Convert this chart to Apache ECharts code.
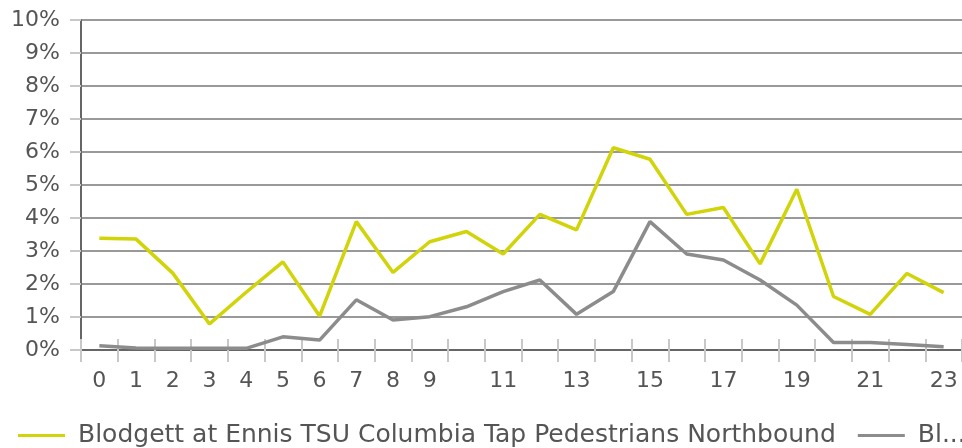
<!DOCTYPE html>
<html>
<head>
<meta charset="utf-8">
<script src="https://cdn.jsdelivr.net/npm/echarts@6/dist/echarts.min.js"></script>
<style>
  html, body { margin: 0; padding: 0; background: #fff; }
  #chart { width: 962px; height: 448px; }
</style>
</head>
<body>
<div id="chart"></div>
<script>
  // hours of the day
  var hours = [];
  for (var h = 0; h < 24; h++) hours.push(String(h));

  var northName = "Blodgett at Ennis TSU Columbia Tap Pedestrians Northbound";
  var southName = "Blodgett at Ennis TSU Columbia Tap Pedestrians Southbound";

  // share of daily volume, percent
  var northValues = [3.39, 3.36, 2.33, 0.79, 1.75, 2.67, 1.03, 3.89, 2.35, 3.28, 3.59, 2.91,
                     4.11, 3.64, 6.13, 5.78, 4.11, 4.32, 2.61, 4.87, 1.62, 1.08, 2.32, 1.74];
  var southValues = [0.13, 0.06, 0.05, 0.05, 0.05, 0.40, 0.30, 1.52, 0.91, 1.01, 1.31, 1.77,
                     2.12, 1.08, 1.77, 3.89, 2.91, 2.73, 2.12, 1.36, 0.23, 0.23, 0.17, 0.10];

  var textColor = "#555";
  var fontFamily = "DejaVu Sans";

  function showLabel(i) {
    return i <= 9 || i % 2 === 1;
  }

  var chart = echarts.init(document.getElementById("chart"), null, { renderer: "canvas" });
  chart.setOption({
    animation: false,
    grid: { left: 81, top: 20, right: -9, bottom: 98 },
    legend: {
      left: 13,
      top: 418,
      width: 1400,
      icon: "rect",
      itemWidth: 47,
      itemHeight: 3,
      itemGap: 22,
      textStyle: { color: textColor, fontFamily: fontFamily, fontSize: 25, padding: [0, 0, 0, 8] },
      data: [
        { name: northName },
        { name: southName, textStyle: { width: 58, overflow: "truncate", ellipsis: "..." } }
      ]
    },
    xAxis: [
      {
        type: "category",
        data: hours,
        boundaryGap: true,
        axisLine: { lineStyle: { color: "#666", width: 2 } },
        axisTick: { show: true, length: 12, interval: 0, lineStyle: { color: "#c8c8c8", width: 2 } },
        axisLabel: {
          interval: function (i) { return showLabel(i); },
          margin: 20,
          color: textColor,
          fontFamily: fontFamily,
          fontSize: 22
        }
      },
      {
        type: "category",
        data: hours,
        position: "bottom",
        boundaryGap: true,
        axisLine: { show: false },
        axisTick: { show: true, inside: true, length: 11, interval: 0, lineStyle: { color: "#c8c8c8", width: 2 } },
        axisLabel: { show: false }
      }
    ],
    yAxis: {
      type: "value",
      min: 0,
      max: 10,
      interval: 1,
      axisLine: { show: true, lineStyle: { color: "#666", width: 2 } },
      axisTick: { show: true, length: 11, lineStyle: { color: "#c8c8c8", width: 2 } },
      axisLabel: {
        formatter: "{value}%",
        margin: 21,
        color: textColor,
        fontFamily: fontFamily,
        fontSize: 22
      },
      splitLine: { lineStyle: { color: "#999", width: 2 } }
    },
    series: [
      {
        name: northName,
        type: "line",
        data: northValues,
        showSymbol: false,
        symbol: "none",
        z: 3,
        lineStyle: { color: "#d0d408", width: 3.5 },
        itemStyle: { color: "#d0d408" }
      },
      {
        name: southName,
        type: "line",
        data: southValues,
        showSymbol: false,
        symbol: "none",
        z: 2,
        lineStyle: { color: "#8c8c8c", width: 3.5 },
        itemStyle: { color: "#8c8c8c" }
      }
    ]
  });
</script>
</body>
</html>
